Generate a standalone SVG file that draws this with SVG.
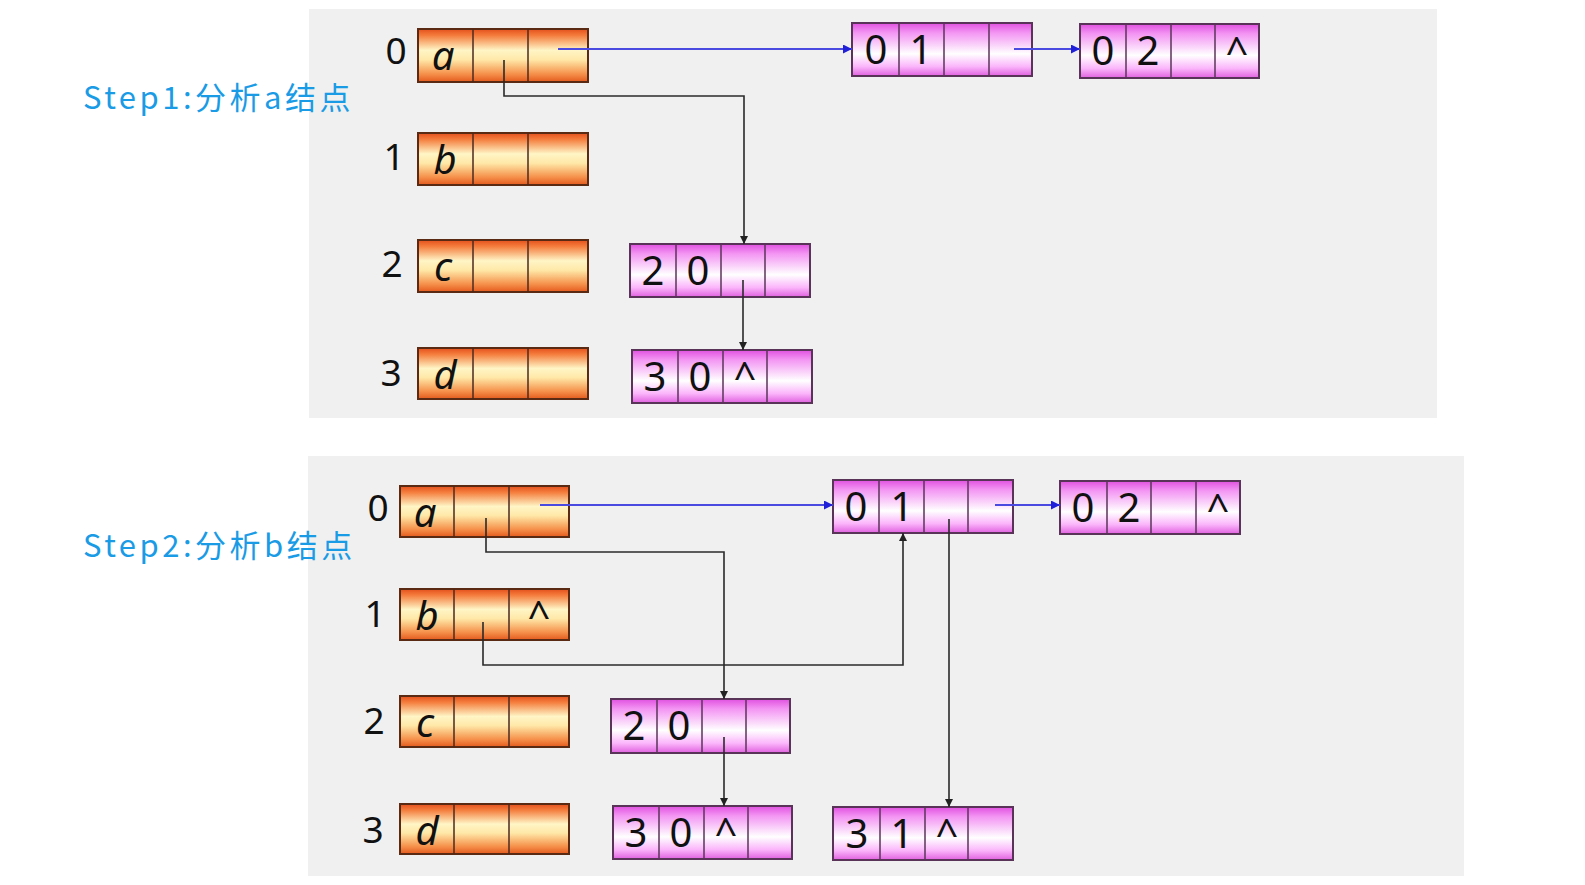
<svg xmlns="http://www.w3.org/2000/svg" width="1585" height="885" viewBox="0 0 1585 885">
<defs>
<linearGradient id="og" x1="0" y1="0" x2="0" y2="1">
<stop offset="0" stop-color="#e4501c"/>
<stop offset="0.12" stop-color="#f47c3c"/>
<stop offset="0.4" stop-color="#fff5c6"/>
<stop offset="0.58" stop-color="#ffe8a8"/>
<stop offset="0.85" stop-color="#f5904a"/>
<stop offset="1" stop-color="#e45a1e"/>
</linearGradient>
<linearGradient id="pg" x1="0" y1="0" x2="0" y2="1">
<stop offset="0" stop-color="#e050e0"/>
<stop offset="0.18" stop-color="#f394f3"/>
<stop offset="0.58" stop-color="#ffffff"/>
<stop offset="0.82" stop-color="#fbb6fb"/>
<stop offset="1" stop-color="#e060e0"/>
</linearGradient>
<marker id="ak" viewBox="0 0 10 10" refX="10" refY="5" markerWidth="8" markerHeight="8" markerUnits="userSpaceOnUse" orient="auto">
<path d="M0,0 L10,5 L0,10 z" fill="#222"/>
</marker>
<marker id="ab" viewBox="0 0 10 10" refX="10" refY="5" markerWidth="9" markerHeight="9" markerUnits="userSpaceOnUse" orient="auto">
<path d="M0,0 L10,5 L0,10 z" fill="#2020d8"/>
</marker>
</defs>
<style>
.panel{fill:#f0f0f0}
.orng{fill:url(#og);stroke:#5a2a12;stroke-width:2}
.pink{fill:url(#pg);stroke:#5a3458;stroke-width:2}
.dv{stroke:#4a2a20;stroke-width:1.5}
.dp{stroke:#5a3458;stroke-width:1.5}
.t{font-family:"Noto Sans","DejaVu Sans",sans-serif;fill:#111;text-anchor:middle}
.idx{font-size:37px}
.let{font-size:40px;font-style:italic}
.num{font-size:40px}
.car{font-size:40px}
.blk{fill:none;stroke:#2a2a2a;stroke-width:1.6;marker-end:url(#ak)}
.blu{fill:none;stroke:#4a4ae0;stroke-width:2;marker-end:url(#ab)}
.step{font-family:"Noto Sans CJK SC","Noto Sans",sans-serif;font-size:31px;fill:#1a9be6;letter-spacing:3.5px}
</style>
<rect class="panel" x="309" y="9" width="1128" height="409"/>
<rect class="panel" x="308" y="456" width="1156" height="420"/>

<text class="step" x="83" y="109">Step1:分析a结点</text>
<text class="step" x="83" y="557">Step2:分析b结点</text>

<!-- Panel 1 -->
<g id="p1-r0">
<text class="t idx" x="396" y="64">0</text>
<rect class="orng" x="418" y="29" width="170" height="53"/>
<line class="dv" x1="473" y1="29" x2="473" y2="82"/><line class="dv" x1="528" y1="29" x2="528" y2="82"/>
<text class="t let" x="443" y="70">a</text>
</g>
<g id="p1-r1">
<text class="t idx" x="394" y="170">1</text>
<rect class="orng" x="418" y="133" width="170" height="52"/>
<line class="dv" x1="473" y1="133" x2="473" y2="185"/><line class="dv" x1="528" y1="133" x2="528" y2="185"/>
<text class="t let" x="445" y="174">b</text>
</g>
<g id="p1-r2">
<text class="t idx" x="392" y="277">2</text>
<rect class="orng" x="418" y="240" width="170" height="52"/>
<line class="dv" x1="473" y1="240" x2="473" y2="292"/><line class="dv" x1="528" y1="240" x2="528" y2="292"/>
<text class="t let" x="443" y="281">c</text>
</g>
<g id="p1-r3">
<text class="t idx" x="391" y="386">3</text>
<rect class="orng" x="418" y="348" width="170" height="51"/>
<line class="dv" x1="473" y1="348" x2="473" y2="399"/><line class="dv" x1="528" y1="348" x2="528" y2="399"/>
<text class="t let" x="445" y="389">d</text>
</g>
<g id="p1-e01">
<rect class="pink" x="852" y="23" width="180" height="53"/>
<line class="dp" x1="899" y1="23" x2="899" y2="76"/><line class="dp" x1="944" y1="23" x2="944" y2="76"/><line class="dp" x1="989" y1="23" x2="989" y2="76"/>
<text class="t num" x="876" y="64">0</text><text class="t num" x="921" y="64">1</text>
</g>
<g id="p1-e02">
<rect class="pink" x="1080" y="24" width="179" height="54"/>
<line class="dp" x1="1126" y1="24" x2="1126" y2="78"/><line class="dp" x1="1171" y1="24" x2="1171" y2="78"/><line class="dp" x1="1215" y1="24" x2="1215" y2="78"/>
<text class="t num" x="1103" y="65">0</text><text class="t num" x="1148" y="65">2</text><text class="t car" x="1237" y="66">^</text>
</g>
<g id="p1-e20">
<rect class="pink" x="630" y="244" width="180" height="53"/>
<line class="dp" x1="676" y1="244" x2="676" y2="297"/><line class="dp" x1="721" y1="244" x2="721" y2="297"/><line class="dp" x1="765" y1="244" x2="765" y2="297"/>
<text class="t num" x="653" y="285">2</text><text class="t num" x="698" y="285">0</text>
</g>
<g id="p1-e30">
<rect class="pink" x="632" y="350" width="180" height="53"/>
<line class="dp" x1="678" y1="350" x2="678" y2="403"/><line class="dp" x1="723" y1="350" x2="723" y2="403"/><line class="dp" x1="767" y1="350" x2="767" y2="403"/>
<text class="t num" x="655" y="391">3</text><text class="t num" x="700" y="391">0</text><text class="t car" x="745" y="391">^</text>
</g>

<!-- Panel 2 -->
<g id="p2-r0">
<text class="t idx" x="378" y="521">0</text>
<rect class="orng" x="400" y="486" width="169" height="51"/>
<line class="dv" x1="454" y1="486" x2="454" y2="537"/><line class="dv" x1="509" y1="486" x2="509" y2="537"/>
<text class="t let" x="425" y="527">a</text>
</g>
<g id="p2-r1">
<text class="t idx" x="375" y="627">1</text>
<rect class="orng" x="400" y="589" width="169" height="51"/>
<line class="dv" x1="454" y1="589" x2="454" y2="640"/><line class="dv" x1="509" y1="589" x2="509" y2="640"/>
<text class="t let" x="427" y="630">b</text><text class="t car" x="539" y="630">^</text>
</g>
<g id="p2-r2">
<text class="t idx" x="374" y="734">2</text>
<rect class="orng" x="400" y="696" width="169" height="51"/>
<line class="dv" x1="454" y1="696" x2="454" y2="747"/><line class="dv" x1="509" y1="696" x2="509" y2="747"/>
<text class="t let" x="425" y="737">c</text>
</g>
<g id="p2-r3">
<text class="t idx" x="373" y="843">3</text>
<rect class="orng" x="400" y="804" width="169" height="50"/>
<line class="dv" x1="454" y1="804" x2="454" y2="854"/><line class="dv" x1="509" y1="804" x2="509" y2="854"/>
<text class="t let" x="427" y="845">d</text>
</g>
<g id="p2-e01">
<rect class="pink" x="833" y="480" width="180" height="53"/>
<line class="dp" x1="879" y1="480" x2="879" y2="533"/><line class="dp" x1="924" y1="480" x2="924" y2="533"/><line class="dp" x1="968" y1="480" x2="968" y2="533"/>
<text class="t num" x="856" y="521">0</text><text class="t num" x="902" y="521">1</text>
</g>
<g id="p2-e02">
<rect class="pink" x="1060" y="481" width="180" height="53"/>
<line class="dp" x1="1107" y1="481" x2="1107" y2="534"/><line class="dp" x1="1151" y1="481" x2="1151" y2="534"/><line class="dp" x1="1196" y1="481" x2="1196" y2="534"/>
<text class="t num" x="1083" y="522">0</text><text class="t num" x="1129" y="522">2</text><text class="t car" x="1218" y="523">^</text>
</g>
<g id="p2-e20">
<rect class="pink" x="611" y="699" width="179" height="54"/>
<line class="dp" x1="657" y1="699" x2="657" y2="753"/><line class="dp" x1="702" y1="699" x2="702" y2="753"/><line class="dp" x1="746" y1="699" x2="746" y2="753"/>
<text class="t num" x="634" y="740">2</text><text class="t num" x="679" y="740">0</text>
</g>
<g id="p2-e30">
<rect class="pink" x="613" y="806" width="179" height="53"/>
<line class="dp" x1="659" y1="806" x2="659" y2="859"/><line class="dp" x1="704" y1="806" x2="704" y2="859"/><line class="dp" x1="748" y1="806" x2="748" y2="859"/>
<text class="t num" x="636" y="847">3</text><text class="t num" x="681" y="847">0</text><text class="t car" x="726" y="847">^</text>
</g>
<g id="p2-e31">
<rect class="pink" x="833" y="807" width="180" height="53"/>
<line class="dp" x1="880" y1="807" x2="880" y2="860"/><line class="dp" x1="925" y1="807" x2="925" y2="860"/><line class="dp" x1="968" y1="807" x2="968" y2="860"/>
<text class="t num" x="857" y="848">3</text><text class="t num" x="902" y="848">1</text><text class="t car" x="947" y="848">^</text>
</g>

<g id="connectors">
<path class="blu" d="M558,49 H852"/>
<path class="blu" d="M1014,49 H1080"/>
<path class="blk" d="M504,60 V96 H744 V244"/>
<path class="blk" d="M743,280 V350"/>
<path class="blu" d="M540,505 H833"/>
<path class="blu" d="M995,505 H1060"/>
<path class="blk" d="M486,518 V552 H724 V699"/>
<path class="blk" d="M724,737 V806"/>
<path class="blk" d="M483,622 V665 H903 V533"/>
<path class="blk" d="M949,519 V807"/>
</g>
</svg>
